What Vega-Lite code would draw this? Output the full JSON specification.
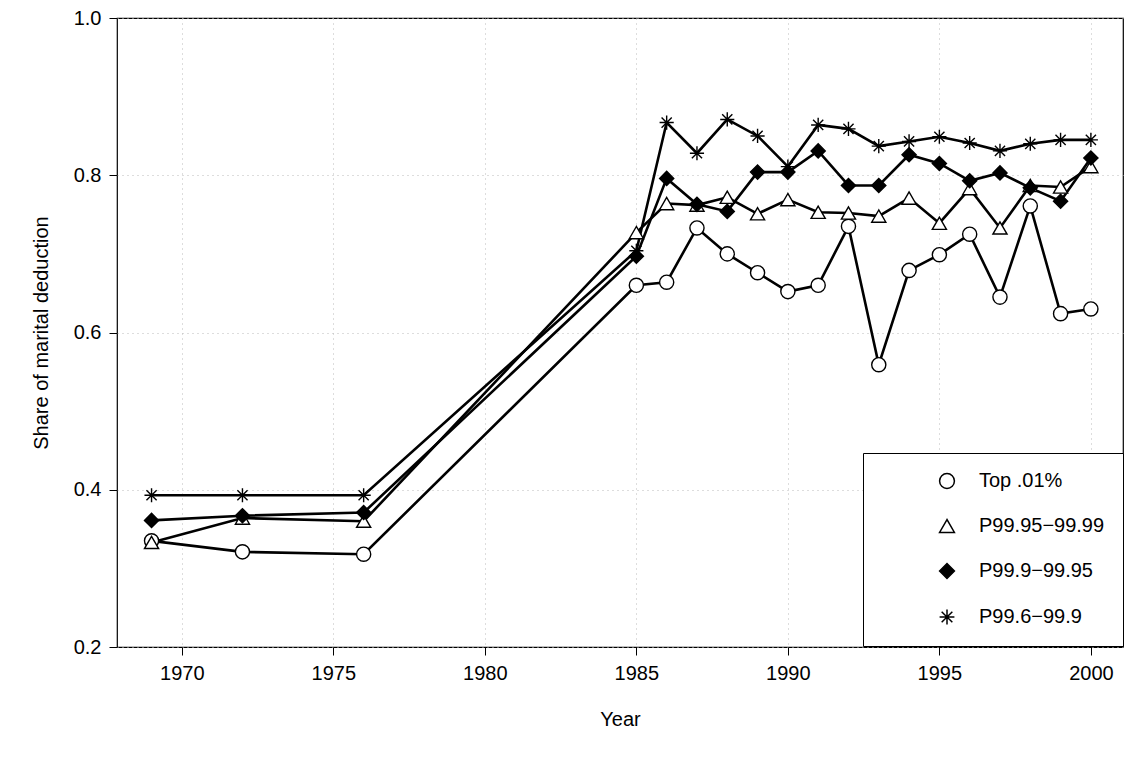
{
"$schema":"https://vega.github.io/schema/vega-lite/v6.json",
"autosize":{"type":"none"},
"width":1006,"height":629,
"padding":{"left":117,"top":18,"right":6,"bottom":111},
"background":"white",
"config":{"view":{"stroke":"black","strokeWidth":1.2},"font":"Liberation Sans"},
"data":{"values":[
{"s":"Top .01%","year":1969,"v":0.335},{"s":"Top .01%","year":1972,"v":0.321},{"s":"Top .01%","year":1976,"v":0.318},{"s":"Top .01%","year":1985,"v":0.660},{"s":"Top .01%","year":1986,"v":0.664},{"s":"Top .01%","year":1987,"v":0.733},{"s":"Top .01%","year":1988,"v":0.700},{"s":"Top .01%","year":1989,"v":0.676},{"s":"Top .01%","year":1990,"v":0.652},{"s":"Top .01%","year":1991,"v":0.660},{"s":"Top .01%","year":1992,"v":0.735},{"s":"Top .01%","year":1993,"v":0.559},{"s":"Top .01%","year":1994,"v":0.679},{"s":"Top .01%","year":1995,"v":0.699},{"s":"Top .01%","year":1996,"v":0.725},{"s":"Top .01%","year":1997,"v":0.645},{"s":"Top .01%","year":1998,"v":0.761},{"s":"Top .01%","year":1999,"v":0.624},{"s":"Top .01%","year":2000,"v":0.630},
{"s":"P99.95−99.99","year":1969,"v":0.333},{"s":"P99.95−99.99","year":1972,"v":0.364},{"s":"P99.95−99.99","year":1976,"v":0.360},{"s":"P99.95−99.99","year":1985,"v":0.727},{"s":"P99.95−99.99","year":1986,"v":0.764},{"s":"P99.95−99.99","year":1987,"v":0.762},{"s":"P99.95−99.99","year":1988,"v":0.772},{"s":"P99.95−99.99","year":1989,"v":0.751},{"s":"P99.95−99.99","year":1990,"v":0.769},{"s":"P99.95−99.99","year":1991,"v":0.753},{"s":"P99.95−99.99","year":1992,"v":0.752},{"s":"P99.95−99.99","year":1993,"v":0.748},{"s":"P99.95−99.99","year":1994,"v":0.771},{"s":"P99.95−99.99","year":1995,"v":0.739},{"s":"P99.95−99.99","year":1996,"v":0.783},{"s":"P99.95−99.99","year":1997,"v":0.733},{"s":"P99.95−99.99","year":1998,"v":0.787},{"s":"P99.95−99.99","year":1999,"v":0.785},{"s":"P99.95−99.99","year":2000,"v":0.811},
{"s":"P99.9−99.95","year":1969,"v":0.361},{"s":"P99.9−99.95","year":1972,"v":0.367},{"s":"P99.9−99.95","year":1976,"v":0.371},{"s":"P99.9−99.95","year":1985,"v":0.697},{"s":"P99.9−99.95","year":1986,"v":0.796},{"s":"P99.9−99.95","year":1987,"v":0.763},{"s":"P99.9−99.95","year":1988,"v":0.754},{"s":"P99.9−99.95","year":1989,"v":0.804},{"s":"P99.9−99.95","year":1990,"v":0.804},{"s":"P99.9−99.95","year":1991,"v":0.831},{"s":"P99.9−99.95","year":1992,"v":0.787},{"s":"P99.9−99.95","year":1993,"v":0.787},{"s":"P99.9−99.95","year":1994,"v":0.826},{"s":"P99.9−99.95","year":1995,"v":0.815},{"s":"P99.9−99.95","year":1996,"v":0.793},{"s":"P99.9−99.95","year":1997,"v":0.803},{"s":"P99.9−99.95","year":1998,"v":0.784},{"s":"P99.9−99.95","year":1999,"v":0.767},{"s":"P99.9−99.95","year":2000,"v":0.822},
{"s":"P99.6−99.9","year":1969,"v":0.393},{"s":"P99.6−99.9","year":1972,"v":0.393},{"s":"P99.6−99.9","year":1976,"v":0.393},{"s":"P99.6−99.9","year":1985,"v":0.704},{"s":"P99.6−99.9","year":1986,"v":0.867},{"s":"P99.6−99.9","year":1987,"v":0.828},{"s":"P99.6−99.9","year":1988,"v":0.871},{"s":"P99.6−99.9","year":1989,"v":0.850},{"s":"P99.6−99.9","year":1990,"v":0.811},{"s":"P99.6−99.9","year":1991,"v":0.864},{"s":"P99.6−99.9","year":1992,"v":0.859},{"s":"P99.6−99.9","year":1993,"v":0.837},{"s":"P99.6−99.9","year":1994,"v":0.843},{"s":"P99.6−99.9","year":1995,"v":0.849},{"s":"P99.6−99.9","year":1996,"v":0.841},{"s":"P99.6−99.9","year":1997,"v":0.831},{"s":"P99.6−99.9","year":1998,"v":0.840},{"s":"P99.6−99.9","year":1999,"v":0.845},{"s":"P99.6−99.9","year":2000,"v":0.845}
]},
"encoding":{
 "x":{"field":"year","type":"quantitative","scale":{"domain":[1967.86,2001.06],"nice":false,"zero":false},
  "axis":{"title":"Year","values":[1970,1975,1980,1985,1990,1995,2000],"format":"d","labelFontSize":20,"titleFontSize":20,"titleFontWeight":"normal","titlePadding":26,"labelPadding":8,"tickSize":8,"tickColor":"black","domain":false,"labelColor":"black","titleColor":"black","grid":true,"gridDash":[1,4],"gridColor":"#bbbbbb"}},
 "y":{"field":"v","type":"quantitative","scale":{"domain":[0.2,1.0],"nice":false,"zero":false},
  "axis":{"title":"Share of marital deduction","values":[0.2,0.4,0.6,0.8,1.0],"format":".1f","labelFontSize":20,"titleFontSize":20,"titleFontWeight":"normal","titlePadding":22,"labelPadding":8,"tickSize":8,"tickColor":"black","domain":false,"labelColor":"black","titleColor":"black","grid":true,"gridDash":[1,4],"gridColor":"#bbbbbb"}},
 "detail":{"field":"s"}
},
"layer":[
 {"mark":{"type":"line","color":"black","strokeWidth":2.6}},
 {"mark":{"type":"point","filled":false,"opacity":1,"strokeWidth":1.4,"size":200},
  "encoding":{
   "shape":{"field":"s","type":"nominal",
     "scale":{"domain":["Top .01%","P99.95−99.99","P99.9−99.95","P99.6−99.9"],"range":["circle","triangle-up","diamond","M-1,0L1,0M0,-1L0,1M-0.72,-0.72L0.72,0.72M-0.72,0.72L0.72,-0.72"]},
     "legend":{"title":null,"orient":"none","legendX":746,"legendY":435,"labelFontSize":20,"labelColor":"black","symbolSize":220,"symbolStrokeWidth":1.5,"rowPadding":24,"padding":18,"strokeColor":"black","fillColor":"white","labelOffset":22,"symbolOffset":56,"labelLimit":300}},
   "fill":{"field":"s","type":"nominal","scale":{"domain":["Top .01%","P99.95−99.99","P99.9−99.95","P99.6−99.9"],"range":["white","white","black","white"]}},
   "stroke":{"field":"s","type":"nominal","scale":{"domain":["Top .01%","P99.95−99.99","P99.9−99.95","P99.6−99.9"],"range":["black","black","black","black"]}}
  }}
]
}
